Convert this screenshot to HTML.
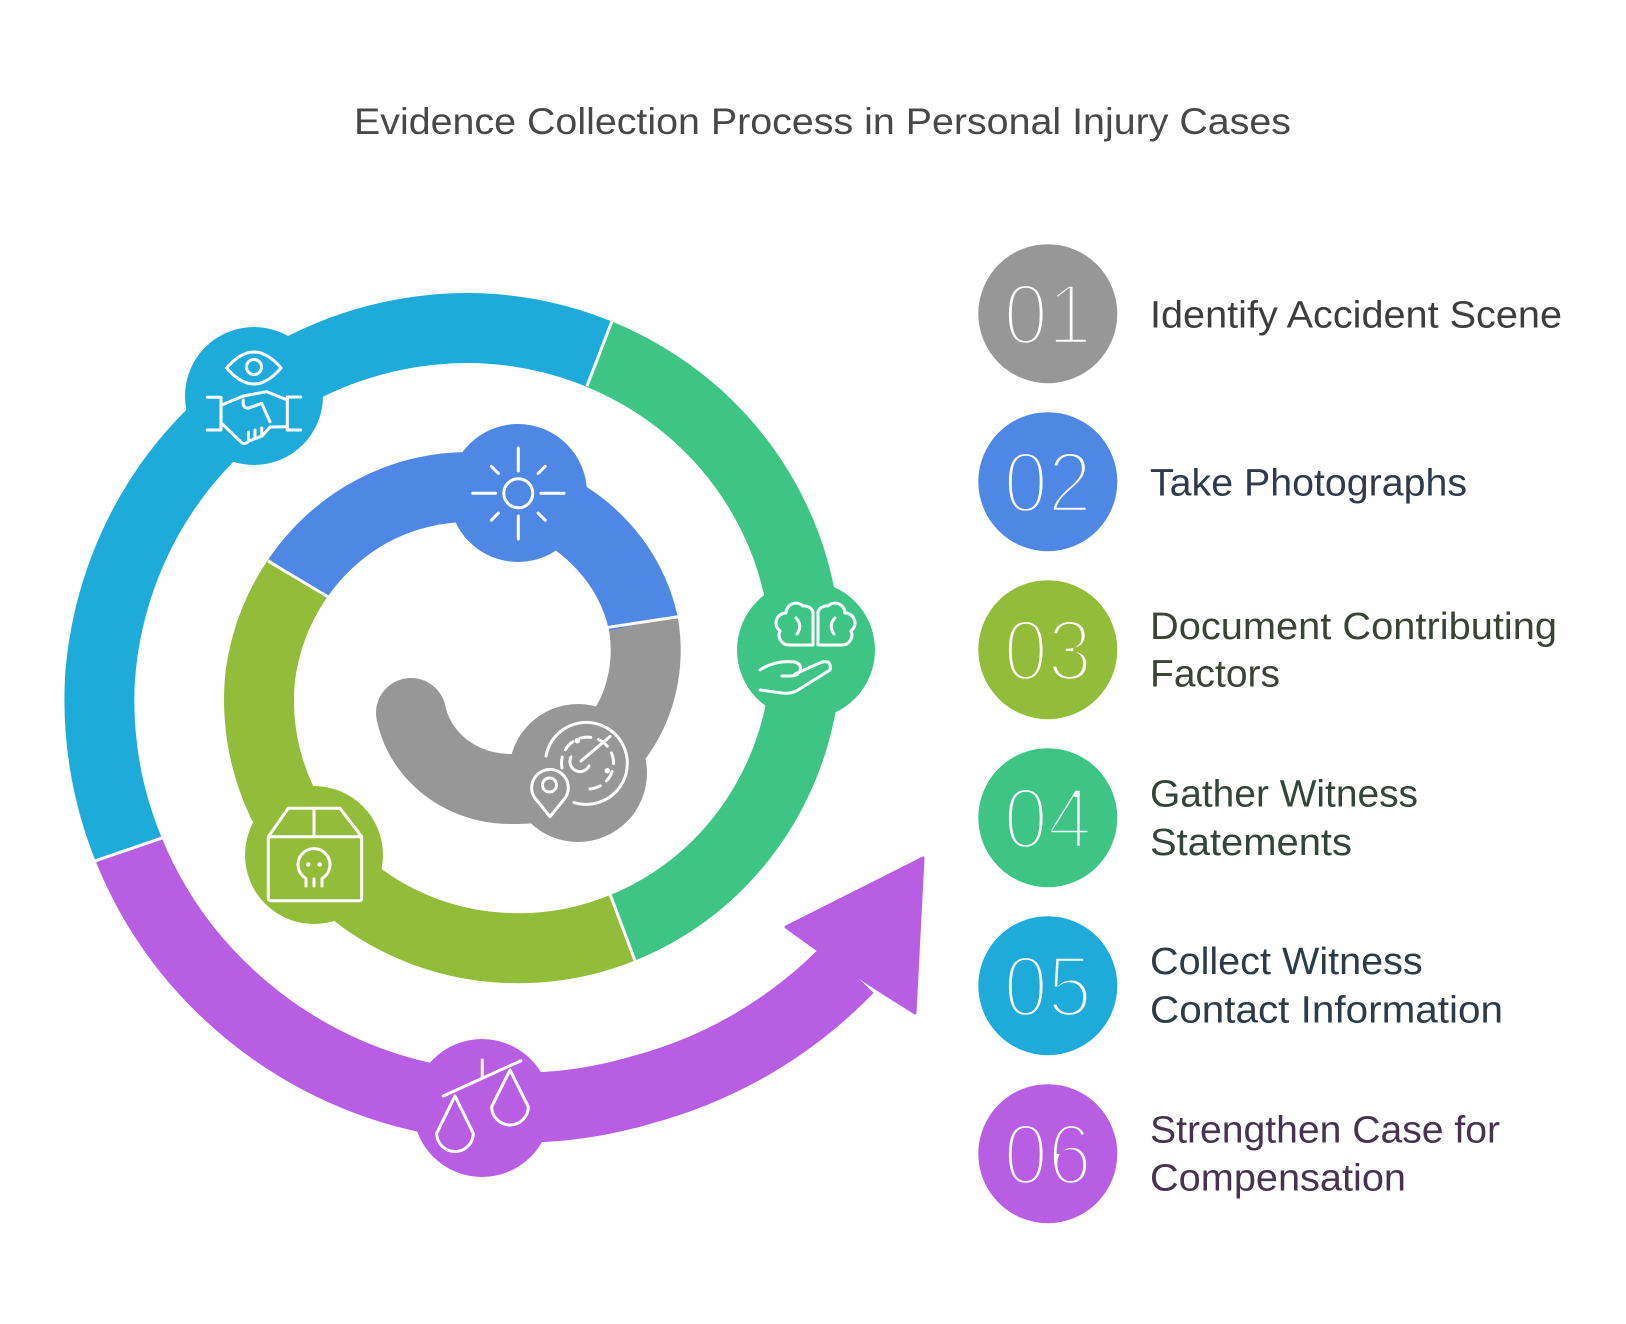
<!DOCTYPE html>
<html>
<head>
<meta charset="utf-8">
<style>
  html, body { margin: 0; padding: 0; background: #ffffff; }
  body { width: 1626px; height: 1324px; overflow: hidden; }
  svg { display: block; }
  .t { font-family: "Liberation Sans", Arial, sans-serif; }
</style>
</head>
<body>
<svg width="1626" height="1324" viewBox="0 0 1626 1324" xmlns="http://www.w3.org/2000/svg">
  <rect width="1626" height="1324" fill="#ffffff"/>

  <!-- Title -->
  <text class="t" x="354" y="134" font-size="37" fill="#484848" textLength="937" lengthAdjust="spacingAndGlyphs">Evidence Collection Process in Personal Injury Cases</text>

  <!-- Spiral bands -->
  <g fill="none" stroke-width="70" stroke-linecap="butt" stroke-linejoin="round">
    <!-- grey -->
    <path stroke="#979797" d="M 411 713 A 93 93 0 0 0 430.1 752.4 A 101 101 0 0 0 465.4 779.3 A 109 109 0 0 0 514.1 788.9 A 120 120 0 0 0 574.1 775.2 A 134 134 0 0 0 625.2 726.3 A 146 146 0 0 0 643.2 678 A 156 156 0 0 0 643.3 623.1"/>
    <!-- blue -->
    <path stroke="#4F88E4" d="M 643.3 623.1 A 166 166 0 0 0 603.1 546.2 A 178 178 0 0 0 524.5 496.2 A 191 191 0 0 0 424.7 491.8 A 205 205 0 0 0 329.7 541.4 A 216 216 0 0 0 297.5 578.6"/>
    <!-- olive -->
    <path stroke="#93BC3B" d="M 297.5 578.6 A 226 226 0 0 0 260 678 A 238 238 0 0 0 281.1 800 A 250 250 0 0 0 364.4 899.8 A 263 263 0 0 0 492.5 947 A 276 276 0 0 0 622.5 927.8"/>
    <!-- teal -->
    <path stroke="#3EC586" d="M 622.5 927.8 A 290 290 0 0 0 750.1 826.7 A 305 305 0 0 0 805 678 A 318 318 0 0 0 773.2 516 A 330 330 0 0 0 660.6 386.9 A 338 338 0 0 0 599.6 354.3"/>
    <!-- cyan -->
    <path stroke="#1FABD9" d="M 599.6 354.3 A 347 347 0 0 0 431.1 329.9 A 360 360 0 0 0 256.2 396.4 A 375 375 0 0 0 133.2 547.2 A 388 388 0 0 0 100 678 A 397 397 0 0 0 128.6 849.3"/>
    <!-- purple -->
    <path stroke="#B85EE3" d="M 128.6 849.3 A 407 407 0 0 0 227.7 993.6 A 418 418 0 0 0 418.8 1096.1 A 431 431 0 0 0 642.3 1089.7 A 447 447 0 0 0 848.5 968.5"/>
  </g>
  <!-- grey round start cap -->
  <circle cx="411" cy="713" r="35" fill="#979797"/>
  <!-- arrowhead -->
  <polygon points="786,927 818,950 877,989 915,1013 923,858" fill="#B85EE3" stroke="#B85EE3" stroke-width="3" stroke-linejoin="round"/>

  <!-- White separators -->
  <g stroke="#ffffff" stroke-width="3" stroke-linecap="butt">
    <line x1="607" y1="627.5" x2="680" y2="616.5"/>
    <line x1="268" y1="561" x2="330" y2="598"/>
    <line x1="610" y1="894" x2="637" y2="966"/>
    <line x1="614" y1="316" x2="587" y2="386"/>
    <line x1="89" y1="863" x2="162" y2="838"/>
  </g>

  <!-- Icon circles on spiral -->
  <circle cx="578" cy="773" r="69" fill="#979797"/>
  <circle cx="518" cy="493" r="69" fill="#4F88E4"/>
  <circle cx="314" cy="855" r="69" fill="#93BC3B"/>
  <circle cx="806" cy="650" r="69" fill="#3EC586"/>
  <circle cx="254" cy="396" r="69" fill="#1FABD9"/>
  <circle cx="482" cy="1108" r="69" fill="#B85EE3"/>

  <!-- Icons -->
  <g fill="none" stroke="#ffffff" stroke-width="3" stroke-linecap="round" stroke-linejoin="round">
    <!-- Cyan: eye + handshake -->
    <path d="M 226.7 368 Q 254 336 281 368 Q 254 400 226.7 368 Z"/>
    <circle cx="254" cy="367" r="7.5"/>
    <path d="M 207.3 397.3 L 221 397.3 L 221 430 L 207.3 430"/>
    <path d="M 300.7 397 L 287.3 397 L 287.3 430 L 300.7 430"/>
    <path d="M 221.7 405 L 243.3 396 L 266.7 391.7 L 287.3 400"/>
    <path d="M 221.7 423.3 L 240 441 Q 244 446 249 441 L 262 436 L 270 427 L 287.3 426.7"/>
    <path d="M 243.3 400 Q 242 409 249 408 L 261.7 403.3 L 270 421.7"/>
    <path d="M 248.5 432 L 248.5 440 M 255 430 L 255 438 M 261.7 428 L 261.7 435"/>

    <!-- Blue: sun -->
    <circle cx="518.3" cy="493.3" r="14.5"/>
    <path d="M 518.3 448 L 518.3 471 M 518.3 516 L 518.3 539 M 472.7 493.3 L 495.5 493.3 M 541 493.3 L 564 493.3"/>
    <path d="M 498.5 473.5 L 491.4 466.4 M 538.1 473.5 L 545.2 466.4 M 498.5 513.1 L 491.4 520.2 M 538.1 513.1 L 545.2 520.2"/>

    <!-- Grey: radar + pin -->
    <path d="M 546 756 A 41 41 0 1 1 574 802.5"/>
    <path d="M 562 768 A 26 26 0 1 1 590 789" stroke-dasharray="11 8"/>
    <path d="M 571 757 A 10 10 0 1 0 589 766"/>
    <path d="M 581 761 L 610 736.5"/>
    <circle cx="577.3" cy="740.7" r="1.2" fill="#ffffff"/>
    <circle cx="607.3" cy="770.7" r="1.2" fill="#ffffff"/>
    <path d="M 550 816.7 L 534.5 797.5 A 18.3 18.3 0 1 1 565.5 797.5 Z"/>
    <circle cx="549.5" cy="785" r="7"/>

    <!-- Olive: box with skull -->
    <path d="M 268.3 836.7 L 288.3 808.3 L 340 808.3 L 361.7 836.7"/>
    <rect x="268.3" y="836.7" width="93.4" height="64" rx="2"/>
    <path d="M 314 808.3 L 314 836.7"/>
    <path d="M 306 886 L 306 878.5 A 16 16 0 1 1 322 878.5 L 322 886"/>
    <path d="M 314 879 L 314 886"/>
    <circle cx="308.3" cy="864.5" r="2.2" fill="#ffffff" stroke="none"/>
    <circle cx="319.7" cy="864.5" r="2.2" fill="#ffffff" stroke="none"/>

    <!-- Teal: brain + hand -->
    <path d="M 813 645 L 790 645 A 10 10 0 0 1 780 631 A 10 10 0 0 1 786 613 A 10 10 0 0 1 803 606 A 9 9 0 0 1 813 612 Z"/>
    <path d="M 818 645 L 841 645 A 10 10 0 0 0 851 631 A 10 10 0 0 0 845 613 A 10 10 0 0 0 828 606 A 9 9 0 0 0 818 612 Z"/>
    <path d="M 796 618 Q 803 625 797 634 M 835 618 Q 828 625 834 634"/>
    <path d="M 760 670 Q 775 660 795 662 Q 802 664 800 671 Q 798 676 790 676 L 782 676"/>
    <path d="M 795 674 L 822 662 Q 832 660 830 670 L 798 690 Q 792 694 782 693 L 760 690"/>

    <!-- Purple: scales -->
    <path d="M 443.3 1096 L 521 1060.7"/>
    <path d="M 482.3 1060 L 482.3 1077"/>
    <path d="M 455 1096 L 436.7 1133.3 A 18.3 18.3 0 0 0 473.3 1133.3 Z"/>
    <path d="M 510 1070 L 491.7 1106.7 A 18.3 18.3 0 0 0 528.3 1106.7 Z"/>
  </g>

  <!-- Number circles -->
  <circle cx="1047.8" cy="313.7" r="69.5" fill="#979797"/>
  <circle cx="1047.8" cy="481.7" r="69.5" fill="#4F88E4"/>
  <circle cx="1047.8" cy="649.7" r="69.5" fill="#93BC3B"/>
  <circle cx="1047.8" cy="817.7" r="69.5" fill="#3EC586"/>
  <circle cx="1047.8" cy="985.7" r="69.5" fill="#1FABD9"/>
  <circle cx="1047.8" cy="1153.7" r="69.5" fill="#B85EE3"/>

  <g class="t" font-size="86" fill="#ffffff" stroke-width="4.5" text-anchor="middle">
    <text x="1047.8" y="344.2" stroke="#979797" textLength="88" lengthAdjust="spacingAndGlyphs">01</text>
    <text x="1047.8" y="512.2" stroke="#4F88E4" textLength="88" lengthAdjust="spacingAndGlyphs">02</text>
    <text x="1047.8" y="680.2" stroke="#93BC3B" textLength="88" lengthAdjust="spacingAndGlyphs">03</text>
    <text x="1047.8" y="848.2" stroke="#3EC586" textLength="88" lengthAdjust="spacingAndGlyphs">04</text>
    <text x="1047.8" y="1016.2" stroke="#1FABD9" textLength="88" lengthAdjust="spacingAndGlyphs">05</text>
    <text x="1047.8" y="1184.2" stroke="#B85EE3" textLength="88" lengthAdjust="spacingAndGlyphs">06</text>
  </g>

  <!-- Labels -->
  <g class="t" font-size="38">
    <text x="1150" y="327.4" fill="#3d3d3d" textLength="412" lengthAdjust="spacingAndGlyphs">Identify Accident Scene</text>
    <text x="1150" y="495.4" fill="#2f3b4c" textLength="317" lengthAdjust="spacingAndGlyphs">Take Photographs</text>
    <text x="1150" y="639" fill="#3a4434" textLength="407" lengthAdjust="spacingAndGlyphs">Document Contributing</text>
    <text x="1150" y="686.7" fill="#3a4434" textLength="130" lengthAdjust="spacingAndGlyphs">Factors</text>
    <text x="1150" y="806.7" fill="#33453a" textLength="268" lengthAdjust="spacingAndGlyphs">Gather Witness</text>
    <text x="1150" y="855" fill="#33453a" textLength="202" lengthAdjust="spacingAndGlyphs">Statements</text>
    <text x="1150" y="974" fill="#2c3c47" textLength="272.7" lengthAdjust="spacingAndGlyphs">Collect Witness</text>
    <text x="1150" y="1022.7" fill="#2c3c47" textLength="353" lengthAdjust="spacingAndGlyphs">Contact Information</text>
    <text x="1150" y="1142.7" fill="#46344f" textLength="350" lengthAdjust="spacingAndGlyphs">Strengthen Case for</text>
    <text x="1150" y="1190.7" fill="#46344f" textLength="256" lengthAdjust="spacingAndGlyphs">Compensation</text>
  </g>
</svg>
</body>
</html>
